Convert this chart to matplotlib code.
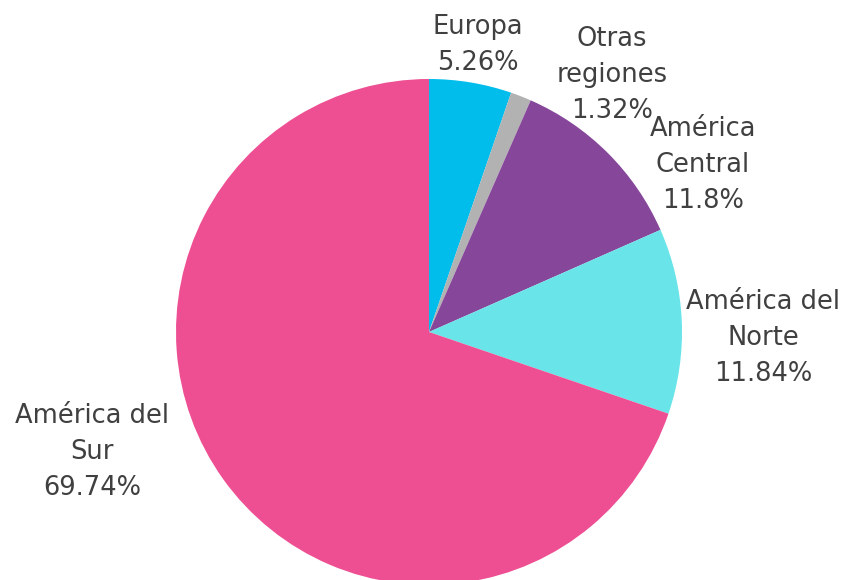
import numpy as np
import matplotlib
matplotlib.use('Agg')
import matplotlib.pyplot as plt

# datos del gráfico
regiones = ['Europa', 'Otras\nregiones', 'América\nCentral', 'América del\nNorte', 'América del\nSur']
porcentajes = [5.26, 1.32, 11.8, 11.84, 69.74]
etiquetas_pct = ['5.26%', '1.32%', '11.8%', '11.84%', '69.74%']
colores = ['#00BDEB', '#B2B2B2', '#86479B', '#69E4E8', '#EE4F93']

# posición de cada etiqueta (en radios, relativo al centro)
pos_etiquetas = [(0.194, 1.134), (0.723, 1.016), (1.083, 0.660), (1.320, -0.024), (-1.332, -0.474)]

plt.rcParams['font.family'] = ['DejaVu Sans']

fig = plt.figure(figsize=(8.46, 5.8), dpi=100)
ax = fig.add_axes([0, 0, 1, 1])

ax.pie(porcentajes, colors=colores, startangle=90, counterclock=False,
       radius=1.0, center=(0, 0), wedgeprops=dict(linewidth=0))

for reg, pct, (x, y) in zip(regiones, etiquetas_pct, pos_etiquetas):
    ax.text(x, y, reg + '\n' + pct, ha='center', va='center', fontsize=18.5,
            color='#404040', linespacing=1.52)

# centro en (429, 332) px, radio 253 px
r = 253.0
ax.set_xlim(-429 / r, (846 - 429) / r)
ax.set_ylim(-(580 - 332) / r, 332 / r)
ax.set_aspect('equal')
ax.axis('off')

fig.savefig('out.png', dpi=100)
